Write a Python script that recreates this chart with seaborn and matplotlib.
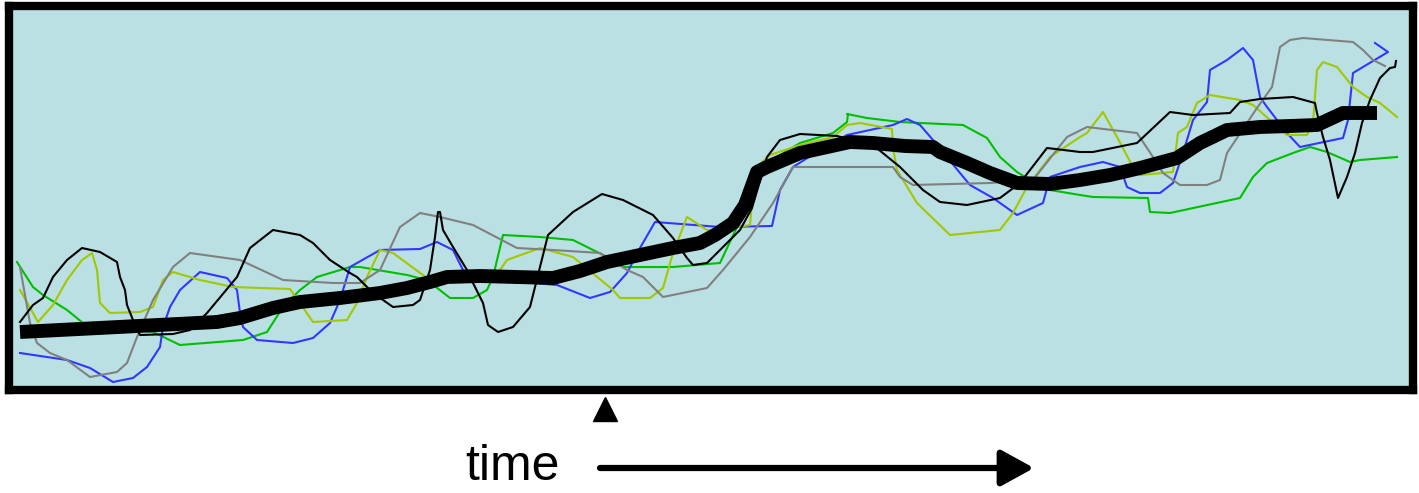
import numpy as np
import pandas as pd
import matplotlib
matplotlib.use("Agg")
import matplotlib.pyplot as plt
import seaborn as sns

mean_t = [20, 217, 240, 273, 300, 340, 380, 407, 430, 447, 480, 553, 580, 607, 640, 673, 700, 715,
          733, 745, 757, 767, 800, 850, 873, 905, 933, 940, 967, 990, 1017, 1050, 1080, 1110, 1140,
          1177, 1200, 1227, 1260, 1290, 1317, 1343, 1377]
mean_y = [332, 322, 318, 308, 302, 298, 293, 288, 282, 277, 276, 278, 271, 262, 255, 248, 243, 235,
          223, 205, 172, 167, 153, 142, 143, 146, 147, 152, 163, 173, 183, 184, 180, 175, 168,
          158, 143, 130, 127, 126, 125, 113, 113]

green_t = [17, 33, 43, 67, 83, 153, 180, 243, 267, 283, 300, 317, 350, 360, 407, 427, 450, 473, 487,
           493, 503, 540, 573, 607, 623, 673, 720, 737, 750, 767, 800, 833, 847, 848, 847, 867, 900,
           963, 987, 1000, 1017, 1033, 1050, 1080, 1093, 1148, 1150, 1170, 1240, 1253, 1267, 1293,
           1310, 1327, 1350, 1360, 1397]
green_y = [262, 287, 295, 310, 323, 332, 345, 340, 332, 307, 290, 277, 267, 267, 275, 280, 298, 298, 290,
           277, 235, 237, 240, 257, 267, 267, 263, 227, 200, 163, 143, 133, 122, 114, 114, 118, 122,
           125, 138, 157, 172, 182, 190, 195, 197, 198, 212, 213, 198, 177, 163, 153,
           147, 152, 162, 160, 157]

blue_t = [20, 67, 90, 113, 133, 147, 160, 163, 170, 180, 200, 227, 237, 240, 243, 257, 293, 313, 330,
          340, 350, 380, 420, 437, 453, 463, 467, 557, 590, 610, 627, 640, 655, 720, 772, 780, 793,
          817, 847, 893, 907, 920, 933, 960, 970, 993, 1017, 1043, 1050, 1080, 1103, 1120, 1127,
          1140, 1160, 1173, 1183, 1193, 1207, 1210, 1227, 1243, 1253, 1260, 1267, 1287, 1300, 1343,
          1348, 1353, 1388, 1375]
blue_y = [353, 360, 368, 382, 378, 367, 347, 327, 307, 290, 272, 278, 290, 313, 327, 340, 343, 338, 323,
          300, 267, 250, 249, 242, 250, 270, 277, 285, 298, 292, 273, 248, 222, 227, 226, 190, 167,
          152, 135, 125, 119, 125, 140, 173, 185, 198, 215, 203, 177, 167, 162, 167, 187,
          193, 193, 183, 153, 120, 102, 70, 60, 48, 60, 97, 107, 133, 147, 138,
          120, 73, 52, 43]

yellow_t = [20, 38, 53, 67, 82, 92, 97, 100, 110, 140, 153, 163, 173, 200, 233, 290, 313, 347, 357,
            367, 380, 393, 427, 460, 493, 507, 540, 573, 613, 620, 650, 663, 673, 687, 707, 720, 750,
            752, 757, 770, 800, 833, 847, 860, 892, 893, 897, 917, 950, 1000, 1013, 1027, 1050, 1080,
            1087, 1103, 1117, 1133, 1140, 1173, 1178, 1187, 1197, 1210, 1240, 1253, 1270, 1287, 1307,
            1313, 1317, 1323, 1337, 1353, 1367, 1380, 1397]
yellow_y = [290, 322, 305, 280, 260, 253, 270, 303, 313, 312, 307, 280, 272, 280, 287, 289, 322, 320, 303,
            277, 250, 253, 278, 281, 280, 260, 248, 257, 290, 298, 298, 288, 253, 217, 230, 230, 225,
            203, 167, 155, 145, 137, 125, 123, 129, 148, 170, 203, 235, 230, 213, 187, 157, 137,
            133, 112, 137, 167, 175, 172, 133, 127, 103, 95, 100, 105, 120, 135, 135,
            123, 70, 62, 67, 87, 97, 103, 117]

gray_t = [20, 30, 37, 50, 67, 90, 117, 127, 137, 153, 173, 190, 240, 283, 333, 360, 380, 400, 420, 440,
          473, 517, 553, 600, 627, 643, 663, 707, 723, 750, 773, 793, 893, 900, 913, 990, 1033, 1067,
          1087, 1137, 1153, 1163, 1180, 1207, 1220, 1227, 1257, 1272, 1280, 1290, 1303, 1353, 1363,
          1373, 1385]
gray_y = [267, 323, 343, 353, 360, 377, 372, 363, 337, 300, 267, 253, 260, 280, 283, 283, 270, 227, 213, 217,
          225, 248, 250, 253, 270, 277, 297, 288, 270, 237, 203, 167, 167, 177, 185, 183, 180, 137,
          127, 133, 157, 173, 185, 185, 180, 153, 108, 87, 47, 40, 38, 42, 50,
          60, 66]

black_t = [20, 33, 43, 53, 67, 82, 100, 117, 120, 125, 127, 133, 140, 173, 190, 207, 237, 250, 273, 300,
           313, 330, 350, 357, 373, 393, 413, 420, 430, 435, 438, 440, 443, 453, 467, 473, 483, 488,
           498, 513, 530, 540, 548, 573, 602, 623, 653, 673, 687, 693, 707, 720, 740, 752, 767, 780,
           800, 837, 873, 900, 923, 940, 967, 1000, 1020, 1047, 1080, 1093, 1137, 1170, 1193, 1230,
           1240, 1260, 1293, 1315, 1317, 1323, 1330, 1338, 1347, 1355, 1362, 1370, 1380, 1390, 1395,
           1396]
black_y = [322, 305, 298, 277, 260, 248, 252, 262, 277, 290, 305, 320, 335, 334, 330, 313, 277, 248, 230, 235,
           243, 260, 273, 277, 293, 307, 305, 300, 270, 237, 212, 212, 230, 247, 270, 283, 303, 325,
           332, 327, 307, 267, 235, 212, 194, 200, 215, 238, 258, 265, 263, 250, 230, 208, 157, 140,
           134, 136, 145, 167, 190, 202, 205, 198, 183, 148, 152, 152, 143, 112, 115, 113,
           102, 99, 97, 103, 113, 137, 160, 198, 177, 153, 123, 100, 78, 68, 67,
           61]

thin_series = [
    ("green", green_t, green_y, "#00c000"),
    ("blue", blue_t, blue_y, "#3535ff"),
    ("yellow", yellow_t, yellow_y, "#a2c800"),
    ("gray", gray_t, gray_y, "#808080"),
    ("black", black_t, black_y, "#000000"),
]

marker_time = 605

fig = plt.figure(figsize=(14.19, 4.93), dpi=100)
ax = fig.add_axes([9 / 1419, 1 - 390 / 493, 1404 / 1419, 384 / 493])
ax.set_facecolor("#bae0e3")

for name, t, y, col in thin_series:
    df = pd.DataFrame({"time": t, "level": y})
    sns.lineplot(data=df, x="time", y="level", sort=False, estimator=None,
                 color=col, linewidth=1.5, ax=ax, solid_joinstyle="round")

mean_df = pd.DataFrame({"time": mean_t, "level": mean_y})
sns.lineplot(data=mean_df, x="time", y="level", sort=False, estimator=None,
             color="black", linewidth=10, ax=ax, zorder=5,
             solid_capstyle="butt", solid_joinstyle="round")

ax.set_xlim(9, 1413)
ax.set_ylim(390, 6)
ax.set_xticks([])
ax.set_yticks([])
ax.set_xlabel("")
ax.set_ylabel("")
for sp in ax.spines.values():
    sp.set_linewidth(6)
    sp.set_color("black")

# marker under the frame and the time arrow
ax.plot([marker_time], [409], marker="^", markersize=17, color="black", clip_on=False)
ax.text(512, 467, "time", fontsize=36, family="Liberation Sans", ha="center", va="center")
ax.annotate("", xy=(1034, 468), xytext=(600, 468), annotation_clip=False,
            arrowprops=dict(arrowstyle="-|>,head_length=2.0,head_width=1.1", lw=4.5, color="black",
                            shrinkA=0, shrinkB=0))

fig.savefig("out.png", dpi=100)
